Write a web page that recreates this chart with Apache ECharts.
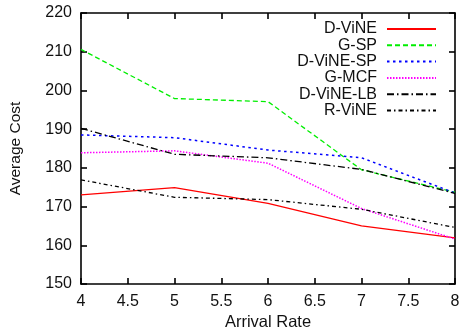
<!DOCTYPE html>
<html><head><meta charset="utf-8">
<script src="https://cdn.jsdelivr.net/npm/echarts@6/dist/echarts.min.js"></script>
<style>html,body{margin:0;padding:0;background:#fff}#c{width:462px;height:335px}</style>
</head><body><div id="c"></div>
<script>
var xs = [4, 5, 6, 7, 8];
var seriesNames = ['D-ViNE', 'G-SP', 'D-ViNE-SP', 'G-MCF', 'D-ViNE-LB', 'R-ViNE'];
var dvine   = [173.0, 174.9, 170.8, 165.0, 161.9];
var gsp     = [210.6, 197.9, 197.1, 179.5, 173.7];
var dvinesp = [188.5, 187.8, 184.6, 182.6, 173.5];
var gmcf    = [183.9, 184.4, 181.2, 169.5, 161.6];
var dvinelb = [190.2, 183.5, 182.6, 179.6, 173.4];
var rvine   = [176.9, 172.4, 171.8, 169.3, 164.6];
var xTicks = [4, 4.5, 5, 5.5, 6, 6.5, 7, 7.5, 8];
var yTicks = [150, 160, 170, 180, 190, 200, 210, 220];

var values = [dvine, gsp, dvinesp, gmcf, dvinelb, rvine];
var colors = ['#ff0000', '#00ee00', '#0000ff', '#ff00ff', '#000000', '#000000'];
var dashes = ['solid', [5, 3], [2.5, 3.5], [1.5, 1.5], [7, 3, 1.5, 3], [4, 3, 1.5, 3]];
var widths = [1.3, 1.3, 1.5, 1.5, 1.3, 1.3];
var font = 'Liberation Sans, Arial, sans-serif';
var txt = '#111';

var chart = echarts.init(document.getElementById('c'), null, {renderer: 'canvas'});
var series = seriesNames.map(function (n, i) {
  return {
    name: n, type: 'line', symbol: 'none', animation: false,
    data: xs.map(function (x, j) { return [x, values[i][j]]; }),
    lineStyle: {color: colors[i], width: widths[i], type: dashes[i]},
    itemStyle: {color: colors[i]}
  };
});
var legends = seriesNames.map(function (n, i) {
  return {
    data: [{name: n}], right: 25, top: 21 + i * 16.3, align: 'right',
    itemWidth: 49, itemHeight: 12, itemGap: 0, padding: 0,
    itemStyle: {opacity: 0, borderWidth: 0},
    textStyle: {fontFamily: font, fontSize: 16, color: txt, padding: [0, 5, 0, 0]},
    selectedMode: false
  };
});
var axisCommon = {
  type: 'value', splitLine: {show: false},
  axisLine: {show: true, lineStyle: {color: '#000', width: 1.6}},
  axisTick: {show: true, inside: true, length: 6, lineStyle: {color: '#000', width: 1.6}}
};
var option = {
  backgroundColor: '#fff',
  animation: false,
  grid: {left: 81, right: 7, top: 13, bottom: 51, containLabel: false, outerBoundsMode: 'none'},
  legend: legends,
  xAxis: [
    Object.assign({}, axisCommon, {min: 4, max: 8, interval: 0.5, position: 'bottom',
      name: 'Arrival Rate', nameLocation: 'middle', nameGap: 30,
      nameTextStyle: {fontFamily: font, fontSize: 16.5, color: txt},
      axisLabel: {fontFamily: font, fontSize: 16, color: txt, margin: 9.5,
        formatter: function (v) { return xTicks.indexOf(v) >= 0 ? String(v) : ''; }}}),
    Object.assign({}, axisCommon, {min: 4, max: 8, interval: 0.5, position: 'top', axisLabel: {show: false}})
  ],
  yAxis: [
    Object.assign({}, axisCommon, {min: 150, max: 220, interval: 10, position: 'left',
      name: 'Average Cost', nameLocation: 'middle', nameGap: 57, nameRotate: 90,
      nameTextStyle: {fontFamily: font, fontSize: 15.5, color: txt},
      axisLabel: {fontFamily: font, fontSize: 16, color: txt, margin: 9,
        formatter: function (v) { return yTicks.indexOf(v) >= 0 ? String(v) : ''; }}}),
    Object.assign({}, axisCommon, {min: 150, max: 220, interval: 10, position: 'right', axisLabel: {show: false}})
  ],
  series: series
};
chart.setOption(option);
</script></body></html>
